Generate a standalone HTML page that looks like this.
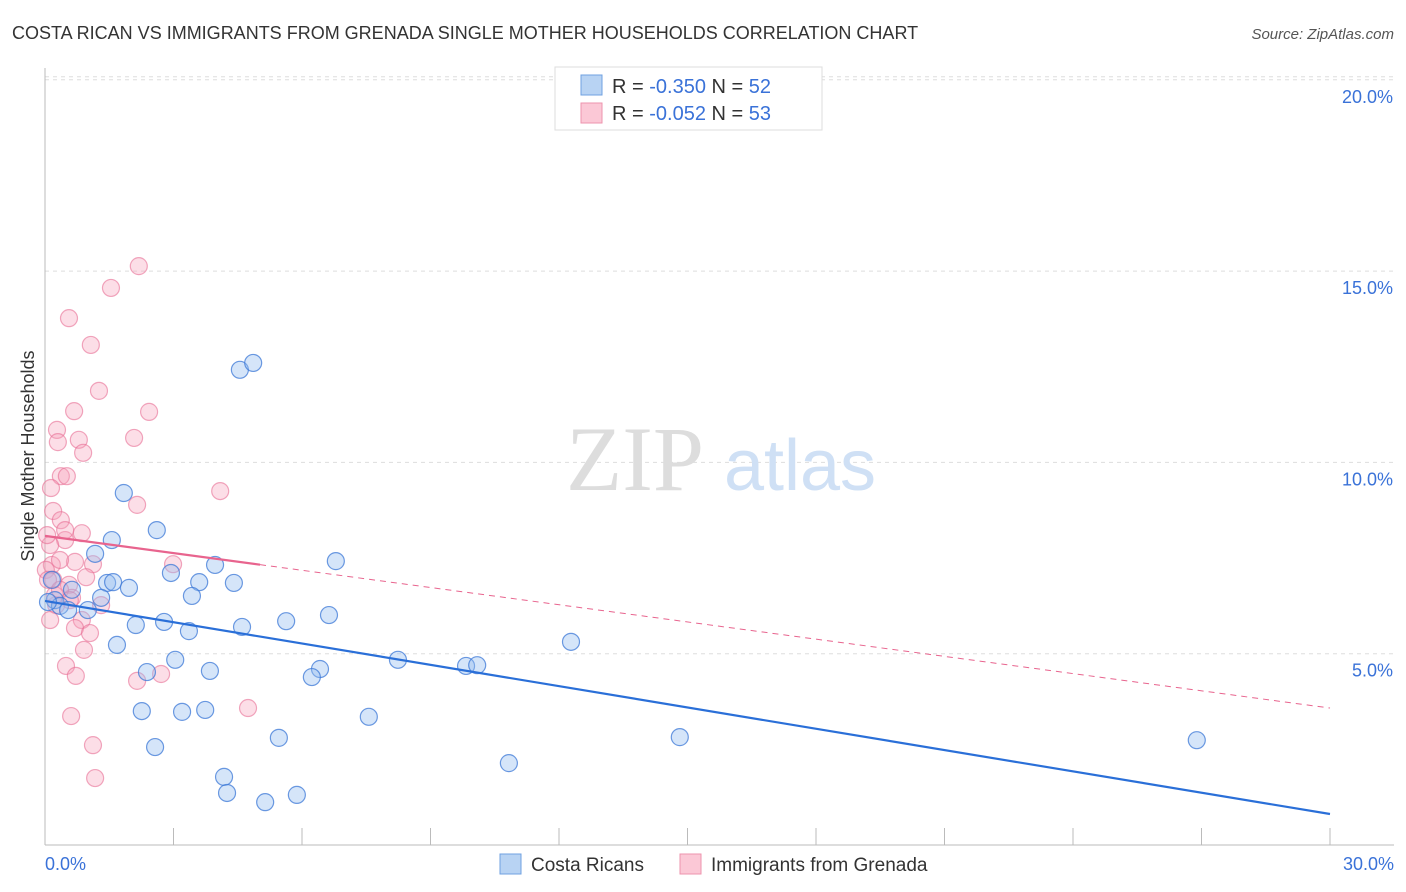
<!DOCTYPE html>
<html><head><meta charset="utf-8"><style>
body{margin:0;background:#fff;font-family:"Liberation Sans",sans-serif;}
svg{display:block}
</style></head><body>
<svg id="chart" width="1406" height="892" xmlns="http://www.w3.org/2000/svg">
<text x="12" y="39" font-size="18" fill="#333">COSTA RICAN VS IMMIGRANTS FROM GRENADA SINGLE MOTHER HOUSEHOLDS CORRELATION CHART</text>
<text x="1394" y="39" font-size="15" fill="#555" font-style="italic" text-anchor="end">Source: ZipAtlas.com</text>
<g id="grid"></g>
<g>
<text x="635" y="490" font-family="Liberation Serif,serif" font-size="92" fill="#ddd" text-anchor="middle">ZIP</text>
<text x="800" y="490" font-size="72" fill="#cfe0f5" text-anchor="middle">atlas</text>
</g>
<line x1="45" y1="68" x2="45" y2="845" stroke="#bbb"/>
<line x1="45" y1="845" x2="1394" y2="845" stroke="#bbb"/>
<g id="xticks"></g>
<text x="45" y="870" font-size="18" fill="#3a72d8">0.0%</text>
<text x="1394" y="870" font-size="18" fill="#3a72d8" text-anchor="end">30.0%</text>
<text transform="translate(34,456) rotate(-90)" font-size="18" fill="#333" text-anchor="middle">Single Mother Households</text>
<g id="pinkpts"></g>
<g id="bluepts"></g>
<g id="lines"></g>
<g>
<rect x="555" y="67" width="267" height="63" fill="#fff" stroke="#ddd"/>
<rect x="581" y="75" width="21" height="20" fill="#b8d3f3" stroke="#6fa0e0"/>
<rect x="581" y="103" width="21" height="20" fill="#fbc8d6" stroke="#ee93ad"/>
<text x="612" y="93" font-size="20" fill="#333">R = <tspan fill="#3a72d8">-0.350</tspan>   N = <tspan fill="#3a72d8">52</tspan></text>
<text x="612" y="120" font-size="20" fill="#333">R = <tspan fill="#3a72d8">-0.052</tspan>   N = <tspan fill="#3a72d8">53</tspan></text>
</g>
<g>
<rect x="500" y="854" width="21" height="20" fill="#b8d3f3" stroke="#6fa0e0"/>
<text x="531" y="871" font-size="19" fill="#333">Costa Ricans</text>
<rect x="680" y="854" width="21" height="20" fill="#fbc8d6" stroke="#ee93ad"/>
<text x="711" y="871" font-size="19" fill="#333">Immigrants from Grenada</text>
</g>
</svg>
<script>
const yTicks=[5,10,15,20];
const yTickLabels=["5.0%","10.0%","15.0%","20.0%"];
const blueX=[1.84,2.61,1.56,1.17,6.79,3.97,2.94,1.45,1.59,3.60,4.41,1.96,1.31,3.43,0.23,0.35,1.00,0.63,5.63,6.63,2.12,2.78,3.36,4.60,1.68,12.28,8.24,3.04,2.38,3.85,6.42,6.23,9.83,10.09,7.56,2.26,3.20,3.74,2.57,5.46,14.82,26.89,10.83,4.18,4.25,5.14,5.88,4.55,4.86,0.07,0.16,0.54];
const blueY=[9.20,8.23,7.97,7.61,7.42,7.32,7.11,6.85,6.87,6.87,6.85,6.72,6.46,6.51,6.40,6.25,6.14,6.67,5.85,6.01,5.75,5.83,5.59,5.70,5.23,5.31,4.84,4.84,4.52,4.55,4.60,4.39,4.68,4.70,3.35,3.50,3.48,3.53,2.56,2.80,2.82,2.74,2.14,1.78,1.36,1.12,1.31,12.42,12.60,6.35,6.93,6.14];
const pinkX=[2.19,1.54,0.56,1.07,1.26,2.43,0.68,0.28,0.30,0.79,2.08,0.89,4.09,0.37,0.51,0.14,2.15,0.19,0.37,0.86,0.47,0.12,2.99,1.12,0.16,0.02,0.19,0.96,0.56,0.63,1.31,0.26,0.86,0.70,1.05,0.91,0.49,0.72,2.15,2.71,0.61,4.74,1.12,1.17,0.07,0.23,0.35,0.58,0.70,0.12,0.05,0.35,0.47];
const pinkY=[15.13,14.56,13.77,13.07,11.87,11.32,11.34,10.85,10.53,10.59,10.64,10.25,9.25,9.64,9.64,9.33,8.89,8.73,8.49,8.15,7.97,7.84,7.34,7.34,7.32,7.19,6.93,7.00,6.80,6.46,6.27,6.27,5.88,5.67,5.54,5.10,4.68,4.42,4.29,4.47,3.37,3.58,2.61,1.75,6.93,6.53,6.67,6.40,7.40,5.88,8.10,7.45,8.23];
const blueTrend=[6.38,0.81];
const pinkTrend=[8.08,3.58];
const pinkSolidEnd=5.02;
const xTicks=[0,3,6,9,12,15,18,21,24,27,30];
const sx=v=>45+v/30*1285;
const sy=v=>845-v/5*191.3;
const NS="http://www.w3.org/2000/svg";
function mk(tag,attrs,parent){const e=document.createElementNS(NS,tag);for(const k in attrs)e.setAttribute(k,attrs[k]);document.getElementById(parent).appendChild(e);return e;}
yTicks.forEach((t,i)=>{
 const l=mk('line',{x1:45,x2:1394,y1:sy(t),y2:sy(t),stroke:'#ddd','stroke-dasharray':'4,4'},'grid');
 
 
 const tx=mk('text',{x:1393,y:sy(t)+23,'font-size':18,fill:'#3a72d8','text-anchor':'end'},'grid');
 tx.textContent=yTickLabels[i];
 
 
});
const tl=mk('line',{x1:45,x2:1394,y1:sy(20)-3,y2:sy(20)-3,stroke:'#ddd','stroke-dasharray':'4,4'},'grid');


xTicks.forEach(t=>{
 const l=mk('line',{x1:sx(t),x2:sx(t),y1:828,y2:845,stroke:'#bbb'},'xticks');
 
 
});
pinkX.forEach((x,i)=>{
 const c=mk('circle',{cx:sx(x),cy:sy(pinkY[i]),r:8.5,fill:'rgba(246,160,186,0.35)',stroke:'rgba(232,110,148,0.6)','stroke-width':1.2},'pinkpts');
 
 
});
blueX.forEach((x,i)=>{
 const c=mk('circle',{cx:sx(x),cy:sy(blueY[i]),r:8.5,fill:'rgba(150,190,240,0.4)',stroke:'rgba(60,120,215,0.75)','stroke-width':1.2},'bluepts');
 
 
});
const b=mk('line',{x1:sx(0),y1:sy(blueTrend[0]),x2:sx(30),y2:sy(blueTrend[1]),stroke:'#2a6fd8','stroke-width':2.2},'lines');


const pAt=x=>pinkTrend[0]+(pinkTrend[1]-pinkTrend[0])*x/30;
const p1=mk('line',{x1:sx(0),y1:sy(pAt(0)),x2:sx(pinkSolidEnd),y2:sy(pAt(pinkSolidEnd)),stroke:'#e8648e','stroke-width':2.2},'lines');


const p2=mk('line',{x1:sx(pinkSolidEnd),y1:sy(pAt(pinkSolidEnd)),x2:sx(30),y2:sy(pAt(30)),stroke:'#e8648e','stroke-width':1,'stroke-dasharray':'6,5'},'lines');


</script>
</body></html>
